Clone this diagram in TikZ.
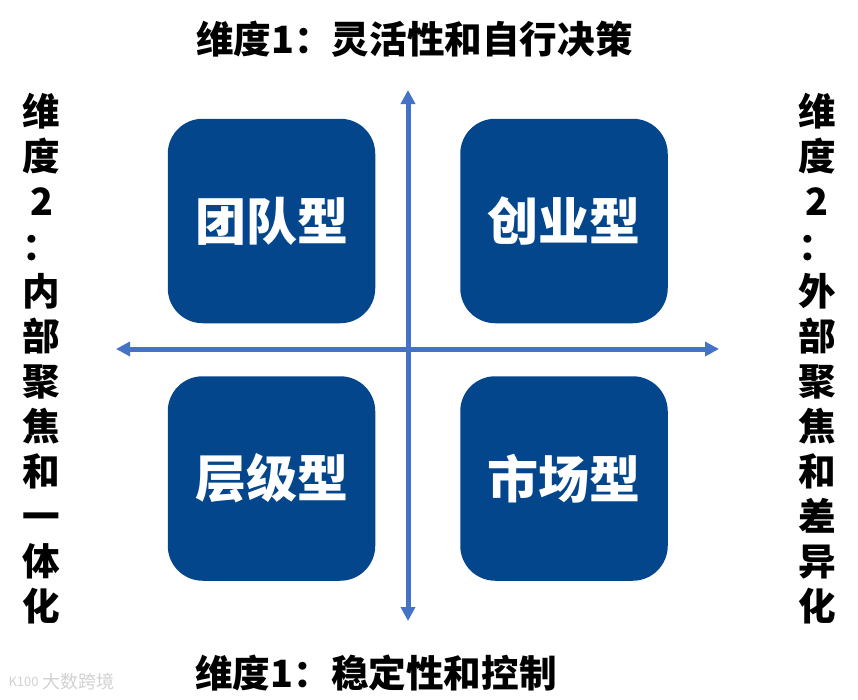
\documentclass[tikz,border=0pt]{standalone}
\usepackage{fontspec}
\setmainfont{Noto Sans CJK SC}
\usetikzlibrary{arrows.meta,positioning}

\begin{document}
\begin{tikzpicture}[x=1pt, y=-1pt,
        quadrant/.style={rectangle, fill=quadblue, rounded corners=35pt, minimum width=207.5pt, minimum height=204.5pt, inner sep=0pt, text=white, font=\fontsize{51}{51}\selectfont\bfseries},
        dimlabel/.style={inner sep=0pt, font=\fontsize{37.6}{37.6}\selectfont\bfseries},
        sidelabel/.style={inner sep=0pt, align=center, font=\fontsize{37.6}{45}\selectfont\bfseries},
        axis/.style={{Triangle[length=14pt, width=14pt]}-{Triangle[length=14pt, width=14pt]}, line width=5pt, draw=axisblue}]
        \definecolor{quadblue}{HTML}{03468C}
        \definecolor{axisblue}{HTML}{4472C4}
        \useasboundingbox (0, 0) rectangle (858, 699);
        
        % Quadrants
        \node[quadrant] (team) at (271.5, 221) {团队型};
        \node[quadrant] (startup) at (564, 221) {创业型};
        \node[quadrant] (hier) at (271.5, 478.5) {层级型};
        \node[quadrant] (market) at (564, 478.5) {市场型};
        
        % Axes
        \coordinate (north) at (408, 90);
        \coordinate (south) at (408, 621);
        \coordinate (west) at (116, 349);
        \coordinate (east) at (719, 349);
        \draw[axis] (south) -- (north);
        \draw[axis] (west) -- (east);
        
        % Dimension 1
        \node[dimlabel] (flex) at (414.5, 39) {维度1：灵活性和自行决策};
        \node[dimlabel] (stable) at (376, 673) {维度1：稳定性和控制};
        
        % Dimension 2
        \node[sidelabel] (inner) at (41.5, 358.5) {维\\度\\2\\：\\内\\部\\聚\\焦\\和\\一\\体\\化};
        \node[sidelabel] (outer) at (817, 358.5) {维\\度\\2\\：\\外\\部\\聚\\焦\\和\\差\\异\\化};
        
        % Watermark
        \node[inner sep=0pt, text=black!18, font=\fontsize{18}{18}\selectfont] (mark) at (78, 682) {大数跨境};
        \node[inner sep=0pt, text=black!18, font=\fontsize{13}{13}\selectfont, left=3pt of mark] (logo) {K100};
        
    \end{tikzpicture}
\end{document}
